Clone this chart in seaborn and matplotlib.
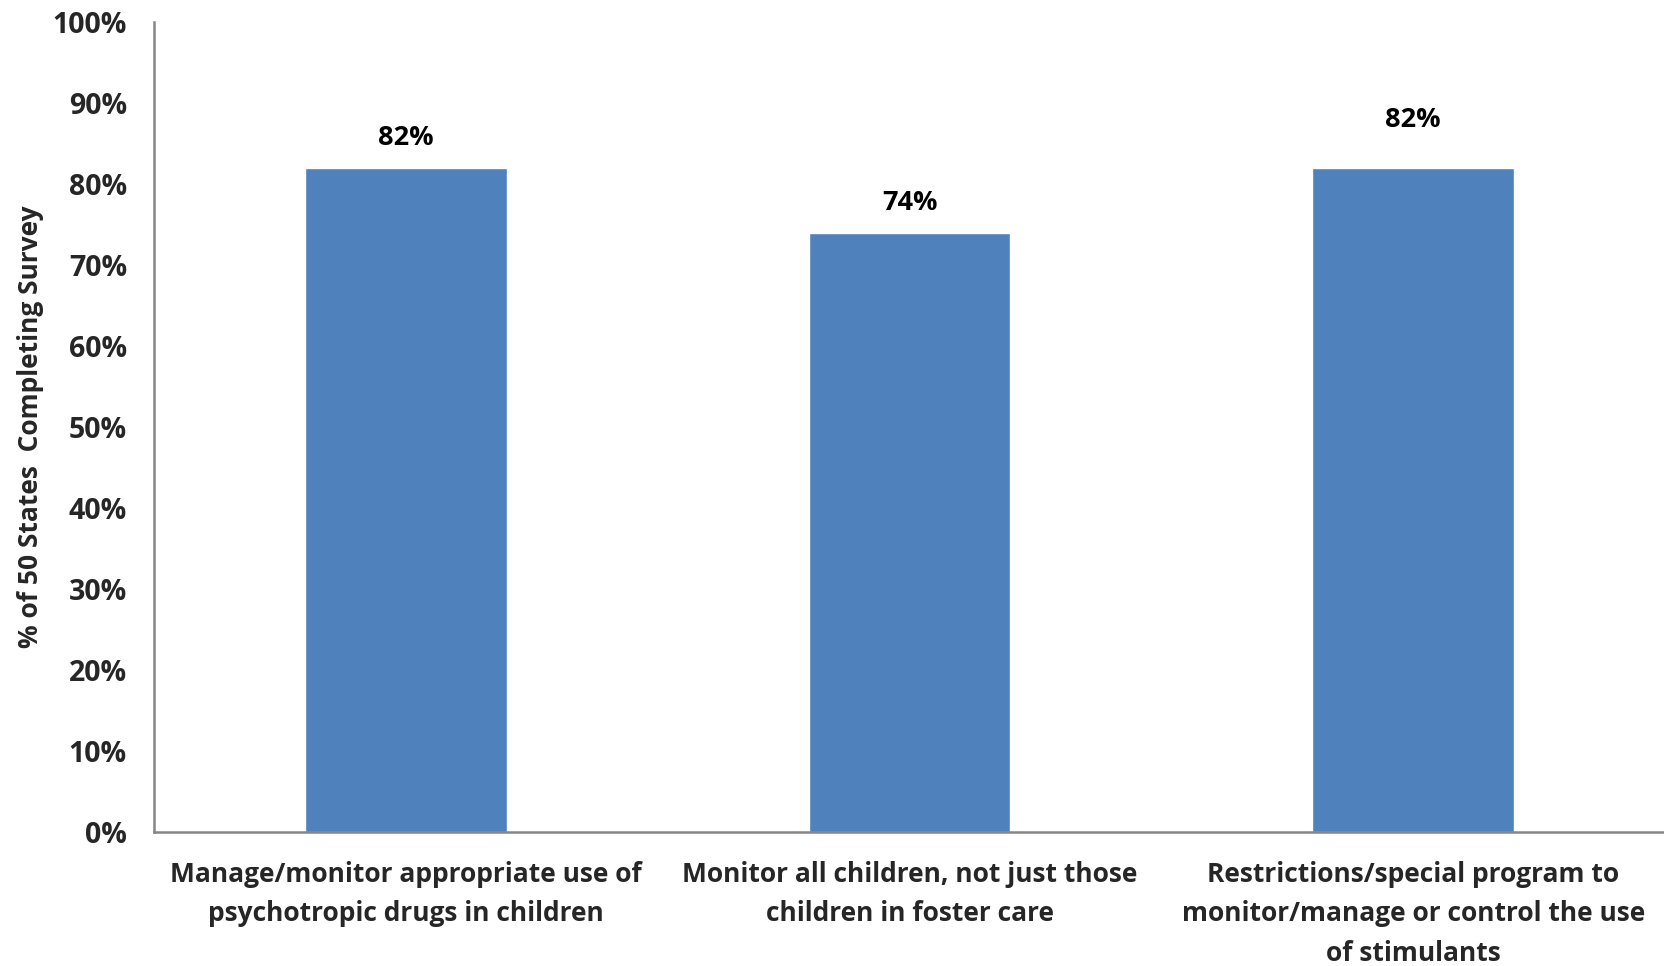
import matplotlib
matplotlib.use("Agg")
import matplotlib.pyplot as plt
import seaborn as sns
import pandas as pd

categories = [
    "Manage/monitor appropriate use of\npsychotropic drugs in children",
    "Monitor all children, not just those\nchildren in foster care",
    "Restrictions/special program to\nmonitor/manage or control the use\nof stimulants",
]
values = [82, 74, 82]
value_labels = ["82%", "74%", "82%"]
label_offsets = [30, 30, 48]  # pixels above bar top (as in reference)
y_ticks = [0, 10, 20, 30, 40, 50, 60, 70, 80, 90, 100]
y_tick_labels = [f"{t}%" for t in y_ticks]
y_label = "% of 50 States  Completing Survey"

sns.set_theme(style="white")
plt.rcParams["font.family"] = ["Open Sans", "DejaVu Sans"]
plt.rcParams["font.weight"] = "bold"

df = pd.DataFrame({"cat": categories, "val": values})

fig = plt.figure(figsize=(16.65, 9.66), dpi=100)
ax = fig.add_axes([0.0925, 0.1387, 0.9075, 0.8386])

sns.barplot(data=df, x="cat", y="val", color="#4F81BD", saturation=1,
            width=0.4, ax=ax)

ax.set_ylim(0, 100)
ax.set_xlim(-0.5, 2.5)
ax.set_yticks(y_ticks)
ax.set_yticklabels(y_tick_labels, fontsize=20.5, fontweight="bold")
ax.set_xlabel("")
ax.set_ylabel(y_label, fontsize=19, fontweight="bold", labelpad=6)
ax.tick_params(axis="x", length=0, pad=21, labelsize=19)
for lbl in ax.get_xticklabels():
    lbl.set_fontweight("bold")
    lbl.set_linespacing(1.58)
ax.tick_params(axis="y", length=7.5, width=1.5, color="#868686", direction="out", pad=12)

for s in ["top", "right"]:
    ax.spines[s].set_visible(False)
for s in ["left", "bottom"]:
    ax.spines[s].set_color("#868686")
    ax.spines[s].set_linewidth(1.8)

for i, (v, t, off) in enumerate(zip(values, value_labels, label_offsets)):
    ax.annotate(t, xy=(i, v), xytext=(0, off * 0.72), textcoords="offset points",
                ha="center", va="center", fontsize=19.5, fontweight="bold", color="black")

fig.savefig("out.png", dpi=100)
